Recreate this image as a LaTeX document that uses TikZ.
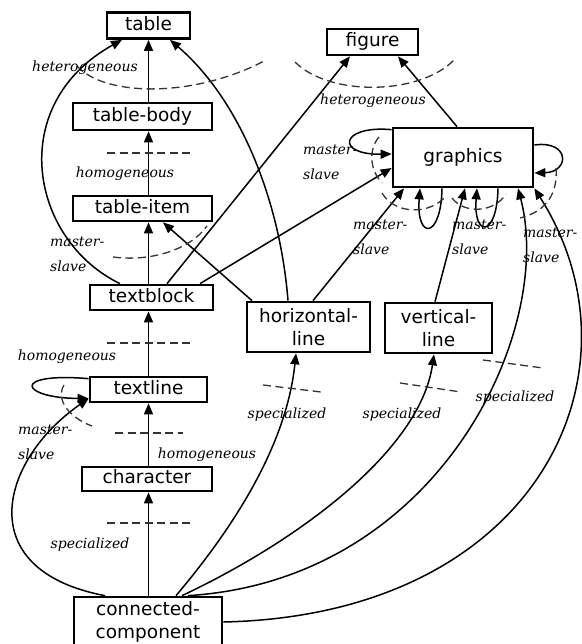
\documentclass[tikz,border=0pt]{standalone}
\usepackage{fontspec}
\newfontfamily\boxfont{DejaVu Sans}
\newfontfamily\lblfont{DejaVu Serif}
\usetikzlibrary{arrows.meta}
\begin{document}
\begin{tikzpicture}[x=1pt,y=-1pt,
  box/.style={draw, line width=2.7pt, inner sep=0pt, font=\boxfont\fontsize{18.5}{23}\selectfont, align=center},
  onel/.style={text height=13.5pt, text depth=4pt},
  arr/.style={-{Triangle[length=11pt,width=9pt]}, line width=1.5pt},
  dsh/.style={dash pattern=on 8pt off 4.5pt, line width=1.3pt, draw=black!80},
  lbl/.style={font=\lblfont\itshape\fontsize{14}{25}\selectfont, inner sep=0pt},
  ms/.style={lbl, anchor=west, align=left}
]
\useasboundingbox (0,0) rectangle (581,644);
% boxes
\node[box, onel, minimum width=83pt, minimum height=26pt] (table) at (148.5,25.5) {table};
\node[box, onel, minimum width=139pt, minimum height=27pt] (tablebody) at (142.5,116.5) {table-body};
\node[box, onel, minimum width=139pt, minimum height=25pt] (tableitem) at (142.5,208.5) {table-item};
\node[box, onel, minimum width=123pt, minimum height=25pt] (textblock) at (151.5,297.5) {textblock};
\node[box, onel, minimum width=117pt, minimum height=25pt] (textline) at (148.5,389.5) {textline};
\node[box, onel, minimum width=130pt, minimum height=24pt] (character) at (147,479) {character};
\node[box, minimum width=148pt, minimum height=50pt] (cc) at (148,622) {connected-\\component};
\node[box, onel, minimum width=91pt, minimum height=26pt] (figure) at (372.5,42) {figure};
\node[box, onel, minimum width=140pt, minimum height=59pt] (graphics) at (463,157.5) {graphics};
\node[box, minimum width=123pt, minimum height=50pt] (hline) at (308.5,327) {horizontal-\\line};
\node[box, minimum width=107pt, minimum height=50pt] (vline) at (438.5,328) {vertical-\\line};
% vertical chain
\draw[arr] (table.south |- tablebody.north) -- (table.south);
\draw[arr] (table.south |- tableitem.north) -- (table.south |- tablebody.south);
\draw[arr] (table.south |- textblock.north) -- (table.south |- tableitem.south);
\draw[arr] (table.south |- textline.north) -- (table.south |- textblock.south);
\draw[arr] (table.south |- character.north) -- (table.south |- textline.south);
\draw[arr] (table.south |- cc.north) -- (table.south |- character.south);
% other connectors
\draw[arr] ([xshift=-31.5pt]textblock.north) .. controls (30,240) and (5,105) .. ([xshift=-26.5pt]table.south);
\draw[arr] ([xshift=-20.5pt]hline.north) .. controls (280,200) and (240,100) .. ([xshift=21.5pt]table.south);
\draw[arr] ([xshift=15.5pt]textblock.north) -- ([xshift=-22.5pt]figure.south);
\draw[arr] ([xshift=48.5pt]textblock.north) -- ([yshift=-10.5pt]graphics.west);
\draw[arr] ([xshift=-56.5pt]hline.north) -- ([xshift=20.5pt]tableitem.south);
\draw[arr] ([xshift=-6pt]graphics.north) -- ([xshift=25.5pt]figure.south);
\draw[arr] ([yshift=-3pt]graphics.north west) .. controls (340,125) and (335,155) .. ([yshift=3.5pt]graphics.west);
\draw[arr] ([yshift=12.5pt]graphics.east) .. controls (570,140) and (570,172) .. ([yshift=-15.5pt]graphics.east);
\draw[arr] ([xshift=-21pt]graphics.south) .. controls (441,240) and (416,240) .. ([xshift=-43pt]graphics.south);
\draw[arr] ([xshift=35pt]graphics.south) .. controls (497,238) and (473,238) .. ([xshift=14pt]graphics.south);
\draw[arr] ([xshift=4.5pt]hline.north) -- ([xshift=-59pt]graphics.south);
\draw[arr] ([xshift=-3.5pt]vline.north) -- ([xshift=2pt]graphics.south);
\draw[arr] ([yshift=-3pt]textline.north west) .. controls (10,372) and (20,398) .. ([yshift=-9pt]textline.west);
\draw[arr] ([xshift=-43pt]cc.north) .. controls (-30,570) and (0,460) .. ([yshift=-9pt]textline.west);
\draw[arr] ([xshift=28pt]cc.north) .. controls (240,520) and (287,440) .. ([xshift=-12.5pt]hline.south);
\draw[arr] ([xshift=34pt]cc.north) .. controls (300,540) and (420,450) .. ([xshift=-4.5pt]vline.south);
\draw[arr] ([xshift=40pt]cc.north) .. controls (440,580) and (555,330) .. ([xshift=55pt]graphics.south);
\draw[arr] (cc.east) .. controls (540,615) and (650,370) .. (graphics.south east);
% dashed arcs
\draw[dsh] (77,66) .. controls (105,97) and (195,98) .. (266,60);
\draw[dsh] (295,62) .. controls (330,97) and (420,95) .. (454,60);
\draw[dsh] (107,153) -- (192,153);
\draw[dsh] (113,257) .. controls (150,262) and (190,250) .. (207,226);
\draw[dsh] (107,343) -- (192,343);
\draw[dsh] (115,433) -- (183,433);
\draw[dsh] (107,523) -- (192,523);
\draw[dsh] (64,385) .. controls (55,400) and (70,418) .. (92,426);
\draw[dsh] (379,137) .. controls (368,150) and (370,170) .. (382,183);
\draw[dsh] (382,193) .. controls (395,215) and (430,215) .. (446,196);
\draw[dsh] (452,198) .. controls (465,215) and (495,212) .. (506,194);
\draw[dsh] (556,168) .. controls (558,195) and (545,212) .. (520,218);
\draw[dsh] (263,385) -- (321,392);
\draw[dsh] (400,383) -- (461,392);
\draw[dsh] (483,360) -- (543,368);
% labels
\node[lbl] (l1) at (85,68) {heterogeneous};
\node[lbl] (l2) at (125,174) {homogeneous};
\node[lbl] (l3) at (373,101) {heterogeneous};
\node[ms] (l4) at (303,162) {master-\\slave};
\node[ms] (l5) at (50,254.5) {master-\\slave};
\node[lbl] (l6) at (67,357) {homogeneous};
\node[ms] (l7) at (18,442.5) {master-\\slave};
\node[lbl] (l8) at (207,455) {homogeneous};
\node[lbl] (l9) at (90,545) {specialized};
\node[ms] (l10) at (353,237.5) {master-\\slave};
\node[ms] (l11) at (452,237.5) {master-\\slave};
\node[ms] (l12) at (523,245.5) {master-\\slave};
\node[lbl] (l13) at (287,415) {specialized};
\node[lbl] (l14) at (402,415) {specialized};
\node[lbl] (l15) at (515,398) {specialized};
\end{tikzpicture}
\end{document}
